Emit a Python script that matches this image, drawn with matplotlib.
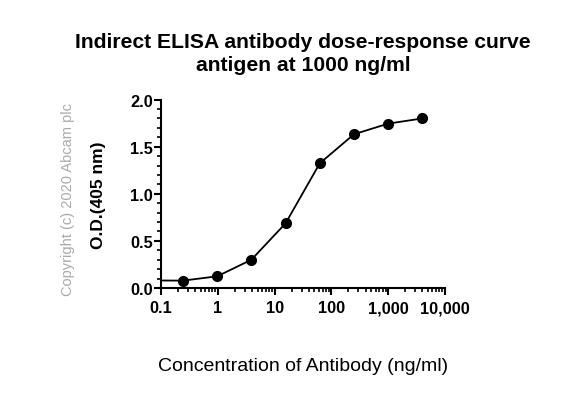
import numpy as np
import matplotlib
matplotlib.use('Agg')
import matplotlib.pyplot as plt
from matplotlib.ticker import FixedLocator, MultipleLocator, LogLocator, NullFormatter

plt.rcParams['font.family'] = ['Liberation Sans', 'DejaVu Sans']

# Data (4-fold dilution series)
concentration = [0.061, 0.244, 0.977, 3.906, 15.625, 62.5, 250, 1000, 4000]
od_405 = [0.08, 0.078, 0.124, 0.30, 0.687, 1.324, 1.632, 1.745, 1.80]

x_ticks = [0.1, 1, 10, 100, 1000, 10000]
x_tick_labels = ['0.1', '1', '10', '100', '1,000', '10,000']
y_ticks = [0.0, 0.5, 1.0, 1.5, 2.0]
y_tick_labels = ['0.0', '0.5', '1.0', '1.5', '2.0']

fig = plt.figure(figsize=(5.69, 4.14), dpi=100)
ax = fig.add_axes([0.283, 0.302, 0.499, 0.455])

ax.plot(concentration, od_405, color='black', lw=1.3, marker='o', markersize=7,
        markerfacecolor='black', markeredgecolor='black', clip_on=True)

ax.set_xscale('log')
ax.set_xlim(0.1, 10000)
ax.set_ylim(0, 2.0)

ax.xaxis.set_major_locator(FixedLocator(x_ticks))
ax.set_xticklabels(x_tick_labels, fontweight='bold', fontsize=11.8)
ax.xaxis.set_minor_locator(LogLocator(base=10, subs=np.arange(2, 10), numticks=20))
ax.xaxis.set_minor_formatter(NullFormatter())

ax.yaxis.set_major_locator(FixedLocator(y_ticks))
ax.set_yticklabels(y_tick_labels, fontweight='bold', fontsize=11.8)
ax.yaxis.set_minor_locator(MultipleLocator(0.1))

for side in ['top', 'right']:
    ax.spines[side].set_visible(False)
for side in ['left', 'bottom']:
    ax.spines[side].set_linewidth(1.5)

ax.tick_params(which='major', length=5, width=1.5)
ax.tick_params(which='minor', length=3, width=1.2)
ax.tick_params(axis='x', which='major', pad=4)
ax.tick_params(axis='y', which='major', pad=1)

ax.set_xlabel('Concentration of Antibody (ng/ml)', fontsize=14, labelpad=30)
ax.set_ylabel('O.D.(405 nm)', fontsize=12.5, fontweight='bold', labelpad=17)

ax.set_title('Indirect ELISA antibody dose-response curve\nantigen at 1000 ng/ml',
             fontsize=15.2, fontweight='bold', pad=21, linespacing=1.32)

fig.text(0.12, 0.519, 'Copyright (c) 2020 Abcam plc', rotation=90, color='#aaaaaa',
         fontsize=10.5, ha='center', va='center')

fig.savefig('out.png', dpi=100)
